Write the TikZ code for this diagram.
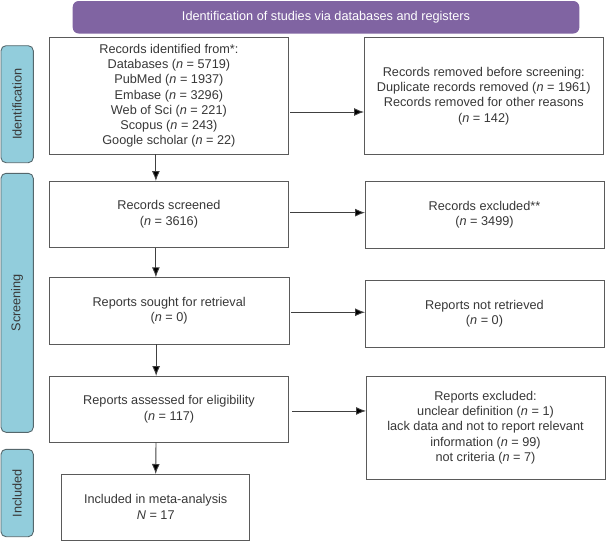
\documentclass[tikz,border=0pt]{standalone}
\usepackage{fontspec}
\setmainfont{Liberation Sans}
\usetikzlibrary{arrows.meta}
\definecolor{purp}{HTML}{8064A2}
\definecolor{aqua}{HTML}{92CDDC}
\definecolor{aquaedge}{HTML}{55676C}
\definecolor{boxedge}{HTML}{5A5A5A}
\definecolor{txt}{HTML}{383838}
\definecolor{lin}{HTML}{404040}
\tikzset{
  flowbox/.style={draw=boxedge, line width=0.9pt, fill=white, align=center,
    text=txt, font=\fontsize{12.7}{15.3}\selectfont, inner sep=2pt, outer sep=0pt},
  sidetab/.style={draw=aquaedge, line width=0.9pt, fill=aqua, rounded corners=5pt,
    rotate=90, text=txt, font=\fontsize{12.7}{15}\selectfont, inner sep=0pt, outer sep=0pt},
  titlebar/.style={fill=purp, rounded corners=6pt, text=white,
    font=\fontsize{12.7}{15}\selectfont, inner sep=0pt, outer sep=0pt},
  arr/.style={draw=lin, line width=0.9pt, -{Latex[length=10pt,width=8pt,fill=black]}}
}
\newcommand{\nn}{\textit{n}}
\begin{document}
\begin{tikzpicture}[x=1pt,y=-1pt]
\useasboundingbox (0,0) rectangle (606,541);
% title
\node[titlebar, minimum width=506.6pt, minimum height=32.5pt] (title) at (326,17.25)
  {Identification of studies via databases and registers};
% side tabs
\node[sidetab, minimum width=117pt, minimum height=32.3pt] (idl) at (17.15,104.2) {Identification};
\node[sidetab, minimum width=259pt, minimum height=32.3pt] (scl) at (17.15,302.8) {Screening};
\node[sidetab, minimum width=87.4pt, minimum height=32.3pt] (inl) at (17.15,493) {Included};
% left column
\node[flowbox, minimum width=239.2pt, minimum height=117pt] (id) at (168.9,95.8)
  {Records identified from*:\\Databases (\nn{} = 5719)\\PubMed (\nn{} = 1937)\\Embase (\nn{} = 3296)\\Web of Sci (\nn{} = 221)\\Scopus (\nn{} = 243)\\Google scholar (\nn{} = 22)};
\node[flowbox, minimum width=239.2pt, minimum height=66.7pt] (scr) at (168.9,214.35)
  {Records screened\\(\nn{} = 3616)};
\node[flowbox, minimum width=239.7pt, minimum height=66.7pt] (sou) at (169.15,310.65)
  {Reports sought for retrieval\\(\nn{} = 0)};
\node[flowbox, minimum width=239.5pt, minimum height=66.3pt] (ass) at (169,409.15)
  {Reports assessed for eligibility\\(\nn{} = 117)};
\node[flowbox, minimum width=188pt, minimum height=66pt] (inc) at (155.7,507)
  {Included in meta-analysis\\\textit{N} = 17};
% right column
\node[flowbox, minimum width=239.5pt, minimum height=117pt] (rem) at (483.75,95.8)
  {Records removed before screening:\\Duplicate records removed (\nn{} = 1961)\\Records removed for other reasons\\(\nn{} = 142)};
\node[flowbox, minimum width=239pt, minimum height=67pt] (exc) at (484.5,214.5)
  {Records excluded**\\(\nn{} = 3499)};
\node[flowbox, minimum width=239pt, minimum height=67.3pt] (nre) at (484.5,313.65)
  {Reports not retrieved\\(\nn{} = 0)};
\node[flowbox, minimum width=239pt, minimum height=103pt] (rex) at (485.5,427.5)
  {Reports excluded:\\unclear definition (\nn{} = 1)\\lack data and not to report relevant\\information (\nn{} = 99)\\not criteria (\nn{} = 7)};
% vertical arrows
\draw[arr] ([xshift=-13pt]id.south) -- ([xshift=-13pt]id.south |- scr.north);
\draw[arr] ([xshift=-13pt]scr.south) -- ([xshift=-13pt]scr.south |- sou.north);
\draw[arr] ([xshift=-13pt]sou.south) -- ([xshift=-13pt]sou.south |- ass.north);
\draw[arr] ([xshift=-13pt]ass.south) -- (inc.north);
% horizontal arrows
\draw[arr] ([xshift=1.5pt,yshift=-16.2pt]id.east) -- ([yshift=-16.2pt]id.east -| rem.west);
\draw[arr] ([xshift=1.5pt,yshift=1.7pt]scr.east) -- ([yshift=1.7pt]scr.east -| exc.west);
\draw[arr] ([xshift=2pt,yshift=-1.6pt]sou.east) -- ([yshift=-1.6pt]sou.east -| nre.west);
\draw[arr] ([xshift=3.5pt,yshift=-1.8pt]ass.east) -- ([yshift=-1.8pt]ass.east -| rex.west);
\end{tikzpicture}
\end{document}
